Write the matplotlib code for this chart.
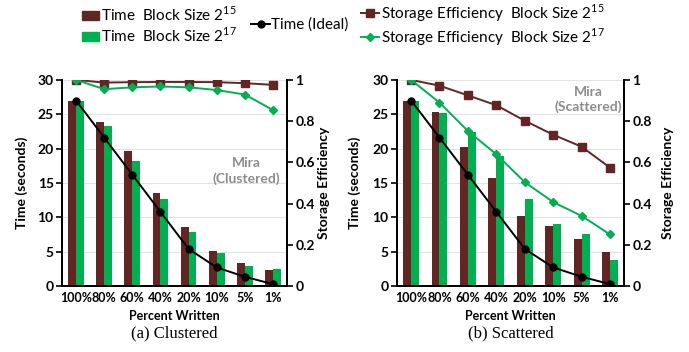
import matplotlib
matplotlib.use("Agg")
import matplotlib.pyplot as plt
import numpy as np
from matplotlib.patches import Patch
from matplotlib.lines import Line2D

plt.rcParams['font.family'] = ['Lato', 'DejaVu Sans']
plt.rcParams['mathtext.fontset'] = 'custom'
plt.rcParams['mathtext.rm'] = 'Lato'

categories = ["100%", "80%", "60%", "40%", "20%", "10%", "5%", "1%"]
ideal = [27.0, 21.6, 16.2, 10.8, 5.4, 2.7, 1.35, 0.27]

clu_time_15 = [27.0, 23.9, 19.6, 13.6, 8.6, 5.06, 3.4, 2.33]
clu_time_17 = [27.0, 23.3, 18.2, 12.6, 7.9, 4.8, 2.97, 2.48]
clu_eff_15 = [1.0, 0.987, 0.989, 0.99, 0.99, 0.989, 0.984, 0.976]
clu_eff_17 = [1.0, 0.955, 0.964, 0.968, 0.964, 0.951, 0.929, 0.854]

sca_time_15 = [27.0, 25.4, 20.3, 15.65, 10.2, 8.8, 6.86, 4.9]
sca_time_17 = [27.0, 25.2, 22.4, 18.9, 12.7, 9.0, 7.5, 3.74]
sca_eff_15 = [1.0, 0.972, 0.925, 0.877, 0.802, 0.734, 0.676, 0.574]
sca_eff_17 = [1.0, 0.89, 0.752, 0.639, 0.504, 0.407, 0.340, 0.25]

BROWN = "#632523"
GREEN = "#00B050"
GRAY_TXT = "#8c8c8c"

fig = plt.figure(figsize=(6.89, 3.52), dpi=100)

def panel(rect, t15, t17, e15, e17, note, note_xy, caption, lpad_left, lpad_right):
    ax = fig.add_axes(rect)
    x = np.arange(len(categories))
    w = 0.28
    ax.bar(x - w/2, t15, width=w, color=BROWN, zorder=2)
    ax.bar(x + w/2, t17, width=w, color=GREEN, zorder=2)
    ax.plot(x, ideal, color="black", marker="o", markersize=5, lw=1.4, zorder=4)
    ax.set_xlim(-0.5, len(categories) - 0.5)
    ax.set_ylim(0, 30)
    ax.set_yticks(range(0, 31, 5))
    ax.set_xticks(x)
    ax.set_xticklabels(categories)
    ax.grid(axis='y', color="#e3e3e3", lw=0.8, zorder=0)
    ax.set_axisbelow(True)
    ax.spines['top'].set_visible(False)
    for s in ['left', 'right', 'bottom']:
        ax.spines[s].set_linewidth(1.3)
    ax.tick_params(axis='y', direction='out', length=4, width=1.2, labelsize=10, pad=2)
    ax.tick_params(axis='x', length=0, labelsize=9, pad=4)
    for lbl in ax.get_xticklabels() + ax.get_yticklabels():
        lbl.set_fontweight('bold')
    ax.set_ylabel("Time (seconds)", fontsize=10, fontweight='bold', labelpad=lpad_left)
    ax.set_xlabel("Percent Written", fontsize=9, fontweight='bold', labelpad=5)

    ax2 = ax.twinx()
    ax2.plot(x, e15, color=BROWN, marker="s", markersize=6, lw=1.4, zorder=5)
    ax2.plot(x, e17, color=GREEN, marker="D", markersize=4.5, lw=1.4, zorder=5)
    ax2.set_ylim(0, 1)
    ax2.set_yticks([0, 0.2, 0.4, 0.6, 0.8, 1.0])
    ax2.set_yticklabels(["0", "0.2", "0.4", "0.6", "0.8", "1"])
    ax2.spines['top'].set_visible(False)
    for s in ['left', 'right', 'bottom']:
        ax2.spines[s].set_linewidth(1.3)
    ax2.tick_params(axis='y', direction='out', length=4, width=1.2, labelsize=10, pad=2)
    for lbl in ax2.get_yticklabels():
        lbl.set_fontweight('bold')
    ax2.set_ylabel("Storage Efficiency", fontsize=10, fontweight='bold', labelpad=lpad_right)

    ax.text(note_xy[0], note_xy[1], note, transform=ax.transAxes, ha='center', va='center',
            fontsize=10, fontweight='bold', color=GRAY_TXT, linespacing=1.3)
    fig.text(rect[0] + rect[2] / 2, 0.054, caption, ha='center', va='center',
             fontsize=12, family='Liberation Serif')
    return ax

panel([0.090, 0.1875, 0.3265, 0.5855], clu_time_15, clu_time_17, clu_eff_15, clu_eff_17,
      "Mira\n(Clustered)", (0.818, 0.56), "(a) Clustered", 7, 2)
panel([0.576, 0.1875, 0.330, 0.5855], sca_time_15, sca_time_17, sca_eff_15, sca_eff_17,
      "Mira\n(Scattered)", (0.84, 0.905), "(b) Scattered", 8, 7)

lfs = 11
ly = 1 - 25 / 352
h1 = [Patch(color=BROWN), Patch(color=GREEN)]
l1 = ["Time  Block Size 2$^{15}$", "Time  Block Size 2$^{17}$"]
fig.legend(h1, l1, loc='center left', bbox_to_anchor=(82 / 689, ly), frameon=False,
           fontsize=lfs, handlelength=1.1, handleheight=0.55, handletextpad=0.15,
           labelspacing=0.15, borderpad=0, borderaxespad=0)
h2 = [Line2D([], [], color='black', marker='o', markersize=5, lw=1.4)]
fig.legend(h2, ["Time (Ideal)"], loc='center left', bbox_to_anchor=(251 / 689, ly),
           frameon=False, fontsize=lfs, handlelength=1.25, handletextpad=0.05,
           borderpad=0, borderaxespad=0)
h3 = [Line2D([], [], color=BROWN, marker='s', markersize=6, lw=1.4),
      Line2D([], [], color=GREEN, marker='D', markersize=4.5, lw=1.4)]
l3 = ["Storage Efficiency  Block Size 2$^{15}$", "Storage Efficiency  Block Size 2$^{17}$"]
fig.legend(h3, l3, loc='center left', bbox_to_anchor=(361 / 689, ly), frameon=False,
           fontsize=lfs, handlelength=1.2, handletextpad=0.1,
           labelspacing=0.15, borderpad=0, borderaxespad=0)

fig.savefig("out.png", dpi=100)
